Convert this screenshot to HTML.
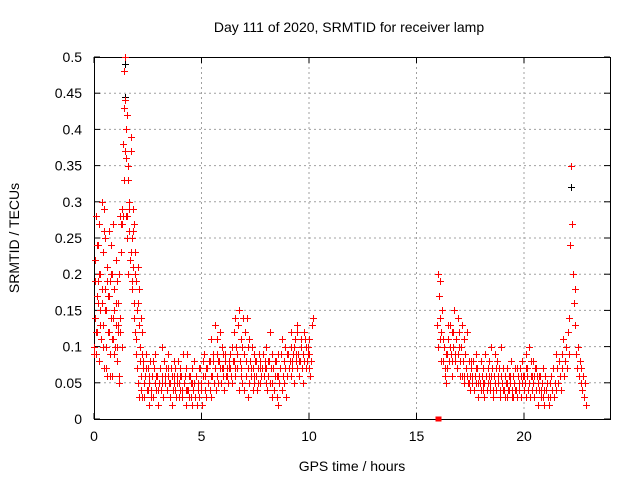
<!DOCTYPE html>
<html><head><meta charset="utf-8"><style>
body{margin:0;background:#fff;}
svg{display:block;font-family:"Liberation Sans",sans-serif;}
</style></head><body>
<svg id="chart" width="640" height="480" viewBox="0 0 640 480" xmlns="http://www.w3.org/2000/svg">
<rect width="640" height="480" fill="#fff"/>
<g id="grid"></g>
<g id="axes"></g>
<g id="black"></g>
<g id="red"></g>
<text x="349" y="32" font-size="14" text-anchor="middle">Day 111 of 2020, SRMTID for receiver lamp</text>
<text x="352" y="471" font-size="14" text-anchor="middle">GPS time / hours</text>
<text transform="translate(19,238) rotate(-90)" font-size="14" text-anchor="middle">SRMTID / TECUs</text>
</svg>
<script>
const xTicks=[0,5,10,15,20];
const yTicks=[0,0.05,0.1,0.15,0.2,0.25,0.3,0.35,0.4,0.45,0.5];
const yTickLabels=["0","0.05","0.1","0.15","0.2","0.25","0.3","0.35","0.4","0.45","0.5"];
const segStarts=[0,0,2.3,2.34,15.95,16.0];
const segSteps=[0.025,0.05,0.04,0.08,0.04,0.08];
const seg0=[0.10,0.14,0.22,0.09,0.28,0.17,0.12,0.24,0.19,0.08,0.27,0.15,0.20,0.11,0.30,0.16,0.23,0.13,0.29,0.07,0.18,0.25,0.10,0.15,0.21,0.06,0.17,0.26,0.12,0.19,0.09,0.24,0.14,0.20,0.06,0.27,0.11,0.18,0.15,0.10,0.22,0.13,0.19,0.08,0.16,0.12,0.20,0.05,0.14,0.28,0.23,0.27,0.10,0.29,0.38,0.43,0.48,0.50,0.44,0.40,0.36,0.28,0.42,0.35,0.33,0.30,0.26,0.22,0.37,0.39,0.19,0.25,0.29,0.21,0.16,0.27,0.12,0.23,0.19,0.09,0.15,0.21,0.05,0.13,0.18,0.10,0.08,0.14,0.04,0.12,0.09,0.07];
const seg1=[0.09,0.19,0.12,0.24,0.16,0.20,0.13,0.18,0.10,0.26,0.15,0.07,0.19,0.12,0.17,0.06,0.20,0.11,0.14,0.09,0.16,0.10,0.13,0.06,0.12,0.23,0.27,0.28,0.33,0.37,0.28,0.25,0.20,0.29,0.23,0.18,0.26,0.14,0.20,0.11,0.07,0.16,0.03,0.10,0.06,0.03];
const seg2=[0.08,0.03,0.06,0.09,0.04,0.07,0.02,0.05,0.08,0.04,
0.06,0.03,0.07,0.05,0.09,0.04,0.06,0.02,0.05,0.07,
0.04,0.10,0.06,0.03,0.08,0.05,0.07,0.04,0.06,0.09,
0.05,0.03,0.07,0.06,0.04,0.08,0.05,0.07,0.03,0.06,
0.08,0.05,0.04,0.07,0.06,0.03,0.09,0.05,0.06,0.04,
0.07,0.09,0.04,0.03,0.06,0.05,0.02,0.07,0.04,0.05,
0.03,0.06,0.02,0.04,0.05,0.03,0.07,0.04,0.02,0.06,
0.09,0.04,0.06,0.03,0.07,0.05,0.08,0.04,0.06,0.03,
0.06,0.08,0.05,0.07,0.04,0.09,0.06,0.05,0.08,0.07,
0.05,0.07,0.09,0.06,0.04,0.08,0.06,0.07,0.05,0.08,
0.07,0.09,0.06,0.10,0.08,0.12,0.07,0.14,0.10,0.09,
0.13,0.15,0.08,0.11,0.07,0.10,0.14,0.09,0.12,0.08,
0.14,0.10,0.07,0.11,0.08,0.06,0.10,0.07,0.09,0.05,
0.08,0.06,0.04,0.07,0.09,0.05,0.08,0.06,0.07,0.09,
0.06,0.08,0.05,0.07,0.04,0.06,0.08,0.05,0.07,0.03,
0.05,0.07,0.04,0.06,0.08,0.03,0.06,0.02,0.05,0.07,
0.09,0.04,0.06,0.08,0.05,0.07,0.03,0.06,0.09,0.07,
0.08,0.06,0.10,0.07,0.09,0.05,0.11,0.08,0.12,0.07,
0.09,0.06,0.08,0.10,0.07,0.09,0.05,0.08,0.11,0.07,
0.08,0.10,0.07,0.09,0.06,0.08,0.13,0.14];
const seg3=[0.05,0.07,0.04,0.06,0.03,0.08,0.05,0.06,0.04,0.07,
0.05,0.03,0.06,0.04,0.07,0.05,0.02,0.06,0.04,0.05,
0.03,0.06,0.04,0.05,0.02,0.04,0.06,0.03,0.05,0.08,
0.06,0.04,0.07,0.05,0.08,0.06,0.07,0.05,0.08,0.11,
0.09,0.13,0.11,0.08,0.12,0.10,0.07,0.09,0.06,0.08,
0.07,0.05,0.08,0.06,0.07,0.04,0.06,0.05,0.04,0.06,
0.03,0.05,0.07,0.04,0.06,0.08,0.05,0.07,0.06,0.09,
0.07,0.10,0.08,0.12,0.09,0.07,0.08,0.06,0.09,0.07,
0.11,0.08,0.10,0.09,0.07,0.12,0.08,0.10,0.09,0.13,0.08,0.11,0.09,0.12,0.10,0.09,0.11,0.08];
const seg4=[0.13,0.20,0.17,0.11,0.19,0.12,0.15,0.08,0.10,0.06,
0.05,0.09,0.07,0.11,0.08,0.13,0.09,0.06,0.12,0.10,
0.15,0.08,0.11,0.07,0.14,0.09,0.12,0.06,0.10,0.13,
0.08,0.11,0.06,0.09,0.07,0.12,0.05,0.08,0.06,0.04,
0.07,0.05,0.08,0.04,0.06,0.09,0.05,0.07,0.03,0.06,
0.05,0.08,0.06,0.04,0.07,0.05,0.09,0.06,0.04,0.07,
0.06,0.08,0.05,0.10,0.07,0.04,0.06,0.09,0.05,0.07,
0.08,0.05,0.07,0.04,0.06,0.10,0.05,0.07,0.04,0.06,
0.05,0.03,0.07,0.04,0.06,0.05,0.08,0.04,0.06,0.03,
0.05,0.07,0.04,0.03,0.06,0.05,0.04,0.07,0.03,0.05,
0.06,0.04,0.05,0.07,0.03,0.06,0.04,0.05,0.03,0.06,
0.04,0.06,0.05,0.03,0.07,0.04,0.06,0.02,0.05,0.04,
0.06,0.03,0.05,0.07,0.04,0.02,0.06,0.04,0.05,0.03,
0.02,0.05,0.03,0.06,0.04,0.07,0.03,0.05,0.09,0.04,
0.07,0.05,0.08,0.06,0.04,0.09,0.07,0.11,0.06,0.08,
0.10,0.07,0.12,0.09,0.14,0.24,0.35,0.27,0.20,0.16,
0.13,0.18,0.09,0.07,0.10,0.06,0.08,0.05,0.07,0.04,
0.06,0.03,0.05,0.02];
const seg5=[0.10,0.14,0.08,0.11,0.07,0.09,0.13,0.10,0.08,0.12,0.09,0.07,0.10,0.08,0.06,0.05,0.07,0.06,0.05,0.08,0.06,0.04,0.07,0.05,0.06,0.04,0.05,0.03,0.06,0.05,0.04,0.06,0.03,0.05,0.04,0.06,0.03,0.05,0.04,0.03,0.05,0.04,0.06,0.03,0.05,0.04,0.07,0.05,0.06,0.08,0.06,0.09,0.07,0.10,0.08,0.08,0.06,0.07,0.05,0.06,0.04,0.03];
const blackX=[1.45,1.45,22.2];
const blackY=[0.49,0.445,0.32];
const markerX=[16.0];
const markerY=[0.0];

const L=94,R=610,T=57,B=419,XMAX=24,YMAX=0.5;
const sx=v=>L+(R-L)*v/XMAX;
const sy=v=>B-(B-T)*v/YMAX;
const NS="http://www.w3.org/2000/svg";
function mk(tag,attrs,parent){const e=document.createElementNS(NS,tag);for(const k in attrs)e.setAttribute(k,attrs[k]);parent.appendChild(e);return e;}
const grid=document.getElementById('grid'),axes=document.getElementById('axes');
xTicks.forEach((t,i)=>{
  const x=sx(t);
  if(t>0){const g=mk('line',{x1:x,x2:x,y1:T,y2:B,stroke:'#a0a0a0','stroke-dasharray':'2,3','stroke-width':1},grid);
  
  }
  mk('line',{x1:x,x2:x,y1:B,y2:B-6,stroke:'#000'},axes);
  mk('line',{x1:x,x2:x,y1:T,y2:T+6,stroke:'#000'},axes);
  const tx=mk('text',{x:x,y:B+22,'font-size':14,'text-anchor':'middle',fill:'#000'},axes);
  tx.textContent=String(t);
  
  
});
yTicks.forEach((t,i)=>{
  const y=sy(t);
  if(t>0&&t<YMAX){const g=mk('line',{x1:L,x2:R,y1:y,y2:y,stroke:'#a0a0a0','stroke-dasharray':'2,3','stroke-width':1},grid);
  
  }
  mk('line',{x1:L,x2:L+6,y1:y,y2:y,stroke:'#000'},axes);
  mk('line',{x1:R,x2:R-6,y1:y,y2:y,stroke:'#000'},axes);
  const tx=mk('text',{x:L-12,y:y+5,'font-size':14,'text-anchor':'end',fill:'#000'},axes);
  tx.textContent=yTickLabels[i];
  
  
});
const frame=mk('rect',{x:L+0.5,y:T+0.5,width:R-L,height:B-T,fill:'none',stroke:'#000'},axes);



function plus(xs,ys,color,parent,name){
  let d='';
  for(let i=0;i<xs.length;i++){const x=Math.round(sx(xs[i]))+0.5,y=Math.round(sy(ys[i]))+0.5;d+=`M${x-3.5} ${y}h7M${x} ${y-3.5}v7`;}
  const p=mk('path',{d:d,stroke:color,'stroke-width':1,fill:'none'},parent);
  
  
}
plus(blackX,blackY,'#000',document.getElementById('black'),'black-points');
const segs=[seg0,seg1,seg2,seg3,seg4,seg5];
segs.forEach((vals,k)=>{
  const xs=vals.map((v,i)=>segStarts[k]+segSteps[k]*i);
  plus(xs,vals,'#ff0000',document.getElementById('red'),'red-points');
});
markerX.forEach((mx,i)=>{
  const r=mk('rect',{x:sx(mx)-2.5,y:sy(markerY[i])-2.5,width:6,height:5,fill:'#ff0000'},document.getElementById('red'));
  
  
});
</script>
</body></html>
